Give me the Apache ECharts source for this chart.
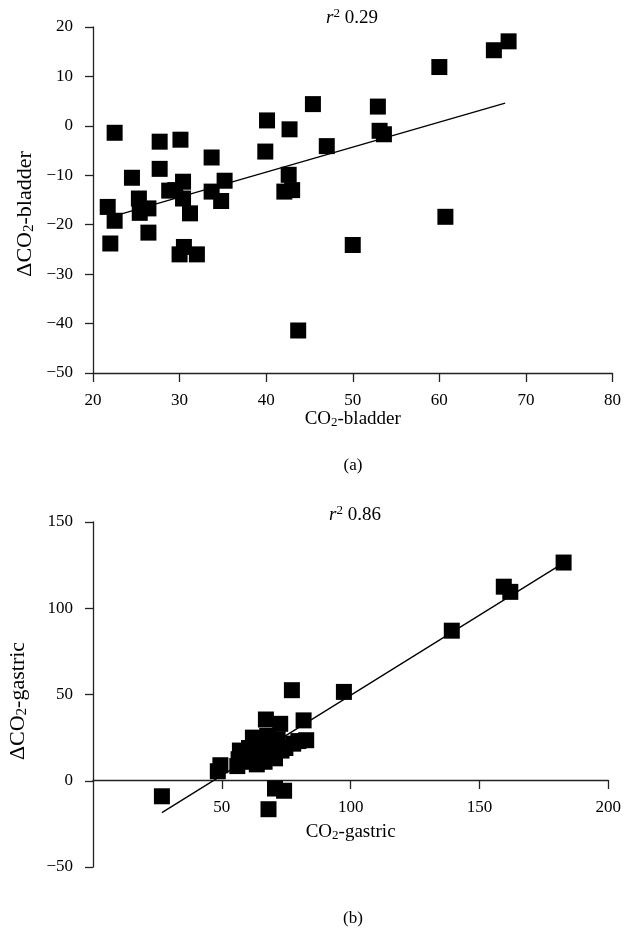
<!DOCTYPE html>
<html>
<head>
<meta charset="utf-8">
<script src="https://cdn.jsdelivr.net/npm/echarts@6/dist/echarts.min.js"></script>
<style>
  html, body { margin: 0; padding: 0; background: #fff; }
  #chart { width: 624px; height: 932px; }
</style>
</head>
<body>
<div id="chart"></div>
<script>
// (a) bladder: CO2 vs delta CO2
var bladderCO2 = [22.5, 21.7, 22.5, 22.0, 24.5, 25.3, 25.4, 26.4, 26.4, 27.7, 27.7, 28.8, 30.1, 30.4, 30.4, 29.5,
                  31.2, 30.5, 30.0, 32.0, 33.7, 33.7, 35.2, 34.8, 40.1, 39.9, 42.7, 42.6, 42.1, 43.0,
                  45.4, 47.0, 50.0, 52.9, 53.1, 53.6, 60.0, 66.3, 68.0, 60.7, 43.7];
var bladderDelta = [-1.4, -16.4, -19.2, -23.8, -10.5, -14.7, -17.6, -16.7, -21.6, -3.2, -8.7, -13.1, -2.8, -11.3, -14.7, -13.0,
                    -17.7, -24.5, -26.0, -26.0, -6.4, -13.3, -11.1, -15.2, 1.1, -5.2, -0.7, -9.9, -13.3, -13.0,
                    4.4, -4.1, -24.1, 3.9, -1.0, -1.7, 11.9, 15.3, 17.1, -18.4, -41.4];
var bladderFitX = [21.7, 67.6];
var bladderFitY = [-18.6, 4.6];

// (b) gastric: CO2 vs delta CO2
var gastricCO2 = [26.5, 48, 49, 55.5, 56, 56.5, 58, 59, 60, 61.5, 62.5, 63, 64, 65, 66, 66.5, 67, 68, 69, 70,
                  71, 72, 72.5, 74, 76.5, 77, 79, 81, 82, 70, 73.5, 67.5, 96.5, 138, 158, 160.5, 181];
var gastricDelta = [-9, 5.5, 9, 8.5, 12.5, 17.5, 15, 11, 19, 25, 14, 9.5, 18, 21.5, 11, 35.5, 26, 15.5, 20, 13,
                    24, 33, 17.5, 19, 52.5, 21.5, 23, 35, 23.5, -4.5, -5.8, -16.5, 51.5, 87, 112.5, 109.5, 126.5];
var gastricFitX = [26.5, 181];
var gastricFitY = [-18.5, 126.3];

var xTicksA = { min: 20, max: 80, interval: 10 };
var yTicksA = { min: -50, max: 20, interval: 10 };
var xTicksB = { min: 0, max: 200, interval: 50 };
var yTicksB = { min: -50, max: 150, interval: 50 };

function pairs(xs, ys) {
	var out = [];
	for (var i = 0; i < xs.length; i++) out.push([xs[i], ys[i]]);
	return out;
}

var FONT = 'Liberation Serif';
var richName = {
	n: { fontFamily: FONT, fontSize: 19, color: '#000', lineHeight: 20 },
	s: { fontFamily: FONT, fontSize: 13, color: '#000', lineHeight: 9, verticalAlign: 'bottom' }
};
var richYName = {
	n: { fontFamily: FONT, fontSize: 22, color: '#000', lineHeight: 24 },
	s: { fontFamily: FONT, fontSize: 15, color: '#000', lineHeight: 10, verticalAlign: 'bottom' }
};
var richR = {
	i: { fontFamily: FONT, fontSize: 19, fontStyle: 'italic', color: '#000', lineHeight: 22 },
	p: { fontFamily: FONT, fontSize: 13, color: '#000', lineHeight: 8, verticalAlign: 'top' },
	n: { fontFamily: FONT, fontSize: 19, color: '#000', lineHeight: 22 }
};

var lineCol = '#222';

function xAxisOf(idx, t, name, gap, hideMin) {
	return {
		type: 'value', gridIndex: idx, min: t.min, max: t.max, interval: t.interval,
		name: name, nameLocation: 'middle', nameGap: gap,
		nameTextStyle: { rich: richName },
		splitLine: { show: false },
		axisLine: { onZero: false, lineStyle: { color: lineCol, width: 1.3 } },
		axisTick: { length: 9, lineStyle: { color: lineCol, width: 1.3 } },
		axisLabel: { margin: 19, fontFamily: FONT, fontSize: 17, color: '#000', showMinLabel: !hideMin }
	};
}
function yAxisOf(idx, t) {
	return {
		type: 'value', gridIndex: idx, min: t.min, max: t.max, interval: t.interval,
		splitLine: { show: false },
		axisLine: { onZero: false, lineStyle: { color: lineCol, width: 1.3 } },
		axisTick: { length: 8, lineStyle: { color: lineCol, width: 1.3 } },
		axisLabel: {
			margin: 20, fontFamily: FONT, fontSize: 17, color: '#000',
			formatter: function (v) { return v < 0 ? '\u2212' + Math.abs(v) : '' + v; }
		}
	};
}
function hiddenAxis(idx, min, max) {
	return { type: 'value', gridIndex: idx, min: min, max: max, show: false, splitLine: { show: false } };
}

var echar = echarts.init(document.getElementById('chart'));
var option = {
	animation: false,
	backgroundColor: '#fff',
	grid: [
		{ left: 93, top: 27, width: 520, height: 346 },
		{ left: 93, top: 522, width: 520, height: 345 },
		// upper part of panel (b), from 150 down to 0: carries the x axis that sits at y = 0
		{ left: 93, top: 522, width: 520, height: 258 }
	],
	xAxis: [
		xAxisOf(0, xTicksA, '{n|CO}{s|2}{n|-bladder}', 23, false),
		hiddenAxis(1, xTicksB.min, xTicksB.max),
		xAxisOf(2, xTicksB, '{n|CO}{s|2}{n|-gastric}', 42, true)
	],
	yAxis: [
		yAxisOf(0, yTicksA),
		yAxisOf(1, yTicksB),
		hiddenAxis(2, 0, yTicksB.max)
	],
	series: [
		{
			type: 'line', xAxisIndex: 0, yAxisIndex: 0, z: 1,
			data: pairs(bladderFitX, bladderFitY), symbol: 'none',
			lineStyle: { color: '#000', width: 1.3 }
		},
		{
			type: 'scatter', xAxisIndex: 0, yAxisIndex: 0, z: 2,
			data: pairs(bladderCO2, bladderDelta), symbol: 'rect', symbolSize: 16,
			itemStyle: { color: '#000', opacity: 1 }
		},
		{
			type: 'line', xAxisIndex: 1, yAxisIndex: 1, z: 1,
			data: pairs(gastricFitX, gastricFitY), symbol: 'none',
			lineStyle: { color: '#000', width: 1.3 }
		},
		{
			type: 'scatter', xAxisIndex: 1, yAxisIndex: 1, z: 2,
			data: pairs(gastricCO2, gastricDelta), symbol: 'rect', symbolSize: 16,
			itemStyle: { color: '#000', opacity: 1 }
		}
	],
	graphic: [
		{ type: 'text', x: 352, y: 18, style: { text: '{i|r}{p|2}{n| 0.29}', rich: richR, align: 'center', verticalAlign: 'middle' } },
		{ type: 'text', x: 355, y: 515, style: { text: '{i|r}{p|2}{n| 0.86}', rich: richR, align: 'center', verticalAlign: 'middle' } },
		{ type: 'text', x: 25, y: 214, rotation: Math.PI / 2, style: { text: '{n|\u0394CO}{s|2}{n|-bladder}', rich: richYName, align: 'center', verticalAlign: 'middle' } },
		{ type: 'text', x: 18, y: 701, rotation: Math.PI / 2, style: { text: '{n|\u0394CO}{s|2}{n|-gastric}', rich: richYName, align: 'center', verticalAlign: 'middle' } },
		{ type: 'text', x: 353, y: 466, style: { text: '(a)', fontFamily: FONT, fontSize: 17, fill: '#000', align: 'center', verticalAlign: 'middle' } },
		{ type: 'text', x: 353, y: 919, style: { text: '(b)', fontFamily: FONT, fontSize: 17, fill: '#000', align: 'center', verticalAlign: 'middle' } }
	]
};
echar.setOption(option);
</script>
</body>
</html>
